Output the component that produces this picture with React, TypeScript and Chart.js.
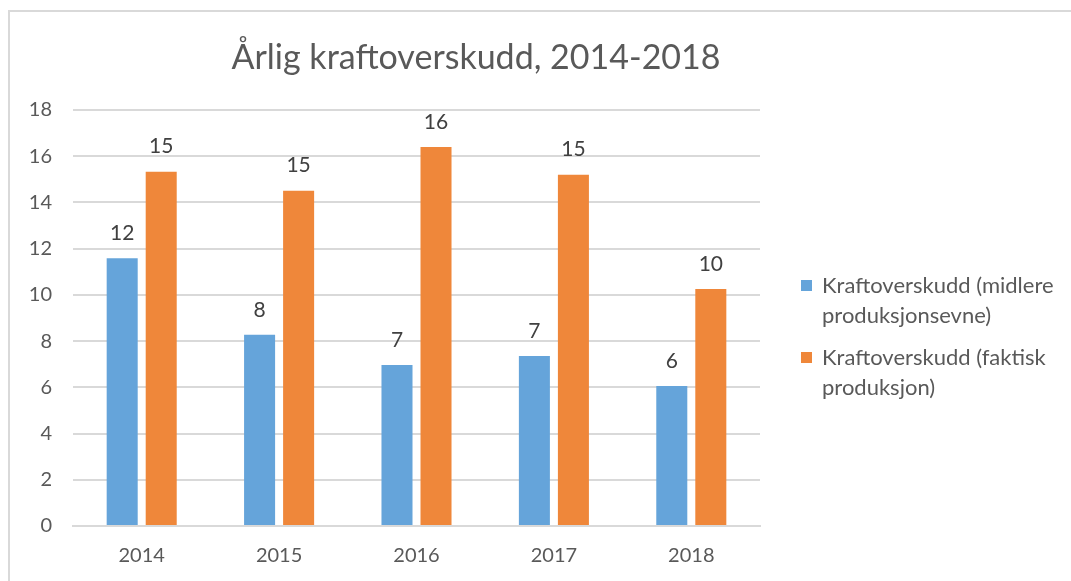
import React, { useEffect, useRef } from "react";
import { Chart, registerables } from "chart.js";

Chart.register(...registerables);

const categories = ["2014", "2015", "2016", "2017", "2018"];
const seriesNames = [
  ["Kraftoverskudd (midlere", "produksjonsevne)"],
  ["Kraftoverskudd (faktisk", "produksjon)"],
];
const midlere = [11.58, 8.27, 6.97, 7.36, 6.06];
const faktisk = [15.33, 14.51, 16.4, 15.2, 10.26];
const yTicks = [0, 2, 4, 6, 8, 10, 12, 14, 16, 18];
const titleText = "Årlig kraftoverskudd, 2014-2018";

const BLUE = "#65A4DA";
const ORANGE = "#EF873A";
const FONT = "Lato, 'Open Sans', sans-serif";

const labelPlugin = {
  id: "barLabels",
  afterDatasetsDraw(chart: any) {
    const ctx = chart.ctx;
    ctx.save();
    ctx.font = `21px ${FONT}`;
    ctx.fillStyle = "#404040";
    ctx.textAlign = "center";
    ctx.textBaseline = "middle";
    chart.data.datasets.forEach((ds: any, i: number) => {
      const meta = chart.getDatasetMeta(i);
      meta.data.forEach((bar: any, j: number) => {
        ctx.fillText(String(Math.round(ds.data[j])), bar.x, bar.y - 25);
      });
    });
    ctx.restore();
  },
};

export default function App() {
  const ref = useRef<HTMLCanvasElement>(null);
  useEffect(() => {
    if (!ref.current) return;
    const chart = new Chart(ref.current, {
      type: "bar",
      data: {
        labels: categories,
        datasets: [
          { label: seriesNames[0].join(" "), data: midlere, backgroundColor: BLUE },
          { label: seriesNames[1].join(" "), data: faktisk, backgroundColor: ORANGE },
        ],
      },
      options: {
        animation: false,
        responsive: false,
        maintainAspectRatio: false,
        layout: { padding: { left: 0, right: 311, top: 110, bottom: 0 } },
        datasets: { bar: { categoryPercentage: 0.568, barPercentage: 0.795 } },
        plugins: { legend: { display: false }, title: { display: false }, tooltip: { enabled: false } },
        scales: {
          x: {
            grid: { display: false, drawTicks: false },
            border: { display: true, color: "#d9d9d9", width: 2 },
            ticks: { color: "#595959", font: { family: FONT, size: 20 }, padding: 18 },
            afterFit: (s: any) => { s.height = 55; },
          },
          y: {
            min: 0,
            max: 18,
            afterBuildTicks: (s: any) => { s.ticks = yTicks.map((v) => ({ value: v })); },
            grid: { color: "#d9d9d9", lineWidth: 2, drawTicks: false },
            border: { display: false },
            ticks: { color: "#595959", font: { family: FONT, size: 20 }, padding: 21 },
            afterFit: (s: any) => { s.width = 73; },
          },
        },
      },
      plugins: [labelPlugin],
    });
    return () => chart.destroy();
  }, []);

  const legendColors = [BLUE, ORANGE];
  const legendTops = [270, 342];

  return (
    <div style={{ position: "fixed", left: 0, top: 0, width: 1071, height: 581, overflow: "hidden", background: "#fff" }}>
      <div style={{ position: "absolute", left: 8, top: 10, width: 1200, height: 700, borderTop: "2px solid #d9d9d9", borderLeft: "2px solid #d9d9d9" }} />
      <canvas ref={ref} width={1071} height={581} style={{ position: "absolute", left: 0, top: 0, width: 1071, height: 581 }} />
      <div style={{ position: "absolute", left: 0, top: 36, width: 952, textAlign: "center", fontFamily: FONT, fontSize: 34, lineHeight: "40px", color: "#595959" }}>
        {titleText}
      </div>
      {seriesNames.map((lines, i) => (
        <div key={i}>
          <div style={{ position: "absolute", left: 801, top: legendTops[i] + 10, width: 11, height: 11, background: legendColors[i] }} />
          <div style={{ position: "absolute", left: 822, top: legendTops[i], fontFamily: FONT, fontSize: 22, lineHeight: "30px", color: "#595959", whiteSpace: "nowrap" }}>
            {lines[0]}
            <br />
            {lines[1]}
          </div>
        </div>
      ))}
    </div>
  );
}
